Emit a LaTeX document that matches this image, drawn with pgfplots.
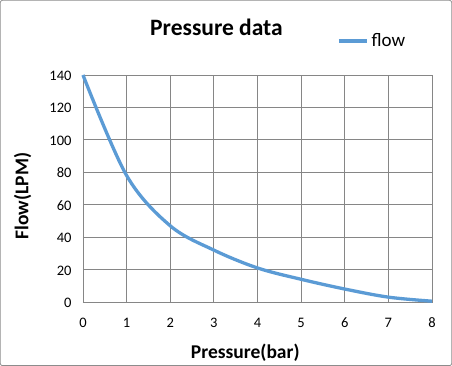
\documentclass[border=0pt]{standalone}
\usepackage{fontspec}
\setmainfont{Carlito}
\usepackage{pgfplots}
\pgfplotsset{compat=1.18}
\usetikzlibrary{calc}
\definecolor{exblue}{RGB}{91,155,213}
\definecolor{gridgray}{RGB}{134,134,134}
\definecolor{framegray}{RGB}{140,140,140}
\begin{document}
\begin{tikzpicture}
\begin{axis}[
  name=ax,
  scale only axis,
  width=349bp, height=227bp,
  xmin=0, xmax=8, ymin=0, ymax=140,
  xtick={0,1,...,8}, ytick={0,20,...,140},
  grid=major,
  grid style={gridgray, line width=0.75pt},
  axis line style={gridgray, line width=0.75pt},
  tick style={draw=none},
  /pgf/number format/assume math mode=true,
  ticklabel style={font=\fontsize{14.5bp}{16bp}\selectfont, text=black, inner sep=0pt},
  xticklabel style={anchor=base, yshift=-25.3bp},
  yticklabel style={anchor=base east, xshift=-11.3bp, yshift=-5.5bp},
  legend style={draw=none, fill=none, at={(rel axis cs:0.728,1.15)}, anchor=west,
    font=\fontsize{19bp}{20bp}\selectfont, inner sep=0pt, nodes={inner sep=3bp}},
  legend image code/.code={\draw[#1] (-3bp,0bp) -- (25bp,0bp);},
  clip=false,
]
\addplot[exblue, line width=3.3bp, smooth, tension=0.55] coordinates {
 (0,140) (1,78) (2,47) (3,32) (4,21) (5,14) (6,8) (7,3) (8,0.5)
};
\addlegendentry{flow}
\end{axis}
\node[anchor=base, font=\bfseries\fontsize{23.5bp}{25bp}\selectfont] at ($(ax.south west)+(133.5bp,266bp)$) {Pressure data};
\node[anchor=base, font=\bfseries\fontsize{19.5bp}{21bp}\selectfont] at ($(ax.south west)+(162.3bp,-56.3bp)$) {Pressure(bar)};
\node[anchor=base, font=\bfseries\fontsize{19.5bp}{21bp}\selectfont, rotate=90] at ($(ax.south west)+(-54.7bp,106bp)$) {Flow(LPM)};
\draw[framegray, line width=0.75pt, rounded corners=2bp] ($(ax.south west)+(-82.6bp,-63.6bp)$) rectangle ($(ax.south west)+(368.6bp,301.6bp)$);
\end{tikzpicture}
\end{document}
